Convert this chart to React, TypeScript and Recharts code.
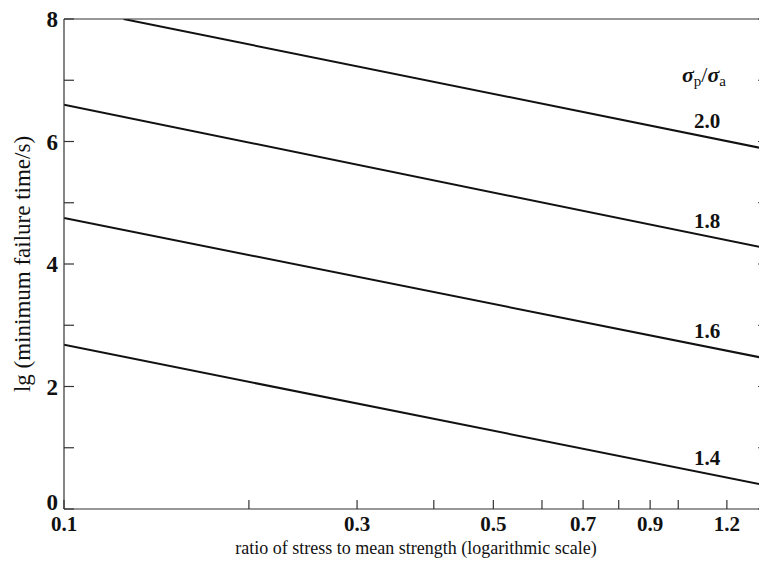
import React from 'react';
import { LineChart, Line, XAxis, YAxis } from 'recharts';

// stress ratio axis (log scale)
const ratioTicks = [0.1, 0.2, 0.3, 0.4, 0.5, 0.6, 0.7, 0.8, 0.9, 1.0, 1.2];
const ratioLabels = [0.1, 0.3, 0.5, 0.7, 0.9, 1.2];
// lg(time) axis
const timeTicks = [0, 1, 2, 3, 4, 5, 6, 7, 8];
const timeLabels = [0, 2, 4, 6, 8];

// one curve per sigma_p / sigma_a
const curveNames = ['2.0', '1.8', '1.6', '1.4'];
const ratio20 = [0.125, 1.4];
const time20 = [8.0, 5.87];
const ratio18 = [0.1, 1.4];
const time18 = [6.6, 4.25];
const ratio16 = [0.1, 1.4];
const time16 = [4.75, 2.45];
const ratio14 = [0.1, 1.4];
const time14 = [2.68, 0.38];

const toRows = (xs: number[], ys: number[]) => xs.map((r, i) => ({ ratio: r, time: ys[i] }));
const curves = [
  toRows(ratio20, time20),
  toRows(ratio18, time18),
  toRows(ratio16, time16),
  toRows(ratio14, time14),
];

const INK = '#111';
const FONT = '"Liberation Serif", "DejaVu Serif", serif';

const BottomTick = (props: any) => {
  const { x, y, payload } = props;
  const v = payload.value;
  return (
    <g>
      <line x1={x} y1={y} x2={x} y2={y - 9} stroke="#333" strokeWidth={1.2} />
      {ratioLabels.includes(v) && (
        <text x={x} y={y + 22} textAnchor="middle" fontSize={21} fontWeight="bold" fill={INK} fontFamily={FONT}>
          {v.toFixed(1)}
        </text>
      )}
    </g>
  );
};

const TopTick = (props: any) => {
  const { x, y } = props;
  return <line x1={x} y1={y} x2={x} y2={y + 9} stroke="#333" strokeWidth={1.2} />;
};

const LeftTick = (props: any) => {
  const { x, y, payload } = props;
  const v = payload.value;
  return (
    <g>
      <line x1={x} y1={y} x2={x + 10} y2={y} stroke="#333" strokeWidth={1.2} />
      {timeLabels.includes(v) && (
        <text x={x - 6} y={y + 8 - (v === 0 ? 7 : 0)} textAnchor="end" fontSize={23} fontWeight="bold" fill={INK} fontFamily={FONT}>
          {v}
        </text>
      )}
    </g>
  );
};

const RightTick = (props: any) => {
  const { x, y } = props;
  return <line x1={x} y1={y} x2={x - 10} y2={y} stroke="#333" strokeWidth={1.2} />;
};

const curveLabel = (name: string, last: number) => (props: any) => {
  const { x, y, index } = props;
  if (index !== last) return null;
  return (
    <text x={x - 61} y={y - 21} textAnchor="middle" fontSize={21} fontWeight="bold" fill={INK} fontFamily={FONT}>
      {name}
    </text>
  );
};

export default function App() {
  return (
    <div
      style={{
        position: 'fixed',
        left: 0,
        top: 0,
        width: 759,
        height: 572,
        overflow: 'hidden',
        background: '#fff',
        fontFamily: FONT,
      }}
    >
      <LineChart width={788} height={572} margin={{ top: 9, right: 0, bottom: 0, left: 24 }}>
        <XAxis
          xAxisId="bottom"
          dataKey="ratio"
          type="number"
          scale="log"
          domain={[0.1, 1.4]}
          allowDataOverflow
          ticks={ratioTicks}
          interval={0}
          height={63}
          tickSize={0}
          tickMargin={0}
          tickLine={false}
          tick={<BottomTick />}
          axisLine={{ stroke: '#333', strokeWidth: 1.2 }}
          label={{
            value: 'ratio of stress to mean strength (logarithmic scale)',
            position: 'insideBottom',
            offset: 18,
            fontSize: 18,
            fill: INK,
            fontFamily: FONT,
          }}
        />
        <XAxis
          xAxisId="top"
          orientation="top"
          type="number"
          scale="log"
          domain={[0.1, 1.4]}
          allowDataOverflow
          ticks={ratioTicks}
          interval={0}
          height={10}
          tickSize={0}
          tickMargin={0}
          tickLine={false}
          tick={<TopTick />}
          axisLine={{ stroke: '#333', strokeWidth: 1.2 }}
        />
        <YAxis
          yAxisId="left"
          type="number"
          domain={[0, 8]}
          allowDataOverflow
          ticks={timeTicks}
          interval={0}
          width={40}
          tickSize={0}
          tickMargin={0}
          tickLine={false}
          tick={<LeftTick />}
          axisLine={{ stroke: '#333', strokeWidth: 1.2 }}
          label={{
            value: 'lg (minimum failure time/s)',
            angle: -90,
            position: 'insideLeft',
            offset: -2,
            fontSize: 23,
            fill: INK,
            fontFamily: FONT,
            style: { textAnchor: 'middle' },
          }}
        />
        <YAxis
          yAxisId="right"
          orientation="right"
          type="number"
          domain={[0, 8]}
          allowDataOverflow
          ticks={timeTicks}
          interval={0}
          width={20}
          tickSize={0}
          tickMargin={0}
          tickLine={false}
          tick={<RightTick />}
          axisLine={{ stroke: '#333', strokeWidth: 1.2 }}
        />
        {curves.map((rows, i) => (
          <Line
            key={curveNames[i]}
            xAxisId="bottom"
            yAxisId="left"
            data={rows}
            dataKey="time"
            type="linear"
            stroke={INK}
            strokeWidth={2}
            dot={false}
            activeDot={false}
            isAnimationActive={false}
            label={curveLabel(curveNames[i], rows.length - 1)}
          />
        ))}
      </LineChart>
      <div
        style={{
          position: 'absolute',
          left: 682,
          top: 64,
          fontSize: 22,
          color: INK,
          fontFamily: FONT,
          whiteSpace: 'nowrap',
          lineHeight: 1,
        }}
      >
        <b><i>σ</i></b>
        <span style={{ fontSize: 15, verticalAlign: -4 }}>p</span>/<b><i>σ</i></b>
        <span style={{ fontSize: 15, verticalAlign: -4 }}>a</span>
      </div>
    </div>
  );
}
